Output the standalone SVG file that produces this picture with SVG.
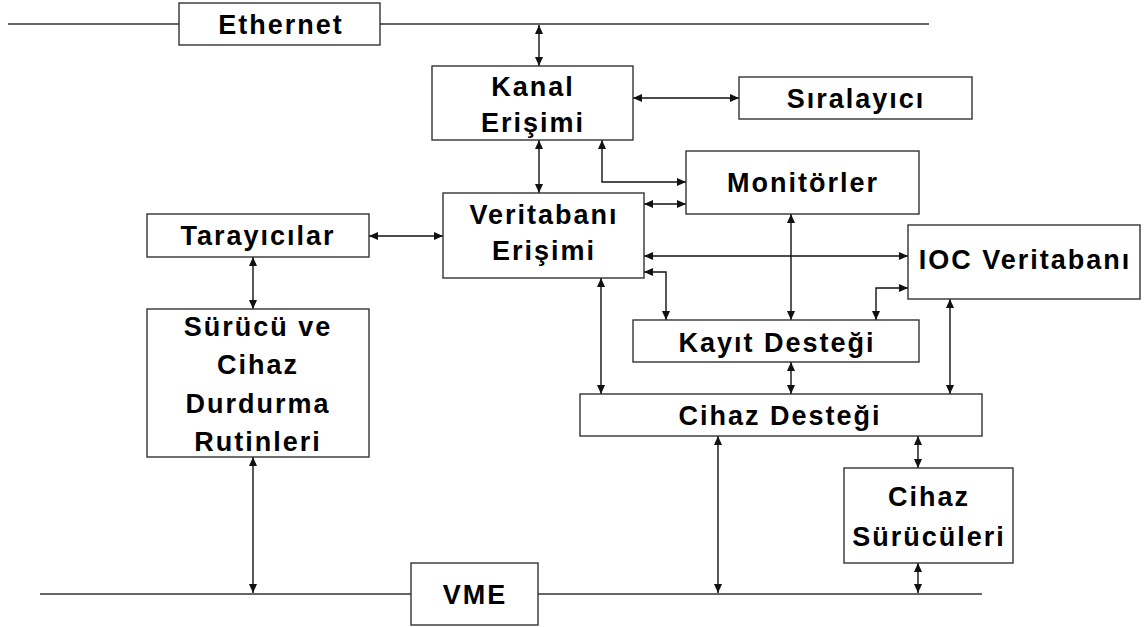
<svg xmlns="http://www.w3.org/2000/svg" width="1148" height="627" viewBox="0 0 1148 627">
  <defs>
    <marker id="ah" viewBox="0 0 9 8" refX="9" refY="4" markerWidth="9" markerHeight="8" markerUnits="userSpaceOnUse" orient="auto-start-reverse">
      <path d="M0,0 L9,4 L0,8 z" fill="#111"/>
    </marker>
  </defs>
  <style>
    .box { fill: #fff; stroke: #333; stroke-width: 1.4; }
    .bus { fill: none; stroke: #333; stroke-width: 1.4; }
    .lbl { font-family: "Liberation Sans", Arial, sans-serif; font-weight: bold; font-size: 27px; letter-spacing: 2px; fill: #000; text-anchor: middle; }
    .cn { fill: none; stroke: #111; stroke-width: 1.4; marker-start: url(#ah); marker-end: url(#ah); }
  </style>
  <rect width="1148" height="627" fill="#fff"/>

  <!-- bus lines -->
  <g id="buses">
    <path class="bus" d="M8,24 H179 M380,24 H929"/>
    <path class="bus" d="M40,594 H411 M538,594 H982"/>
  </g>

  <!-- connectors -->
  <g id="connectors">
    <path class="cn" d="M539,25 V66"/>
    <path class="cn" d="M633,98 H739"/>
    <path class="cn" d="M539,140 V193"/>
    <path class="cn" d="M602,140 V182 H686"/>
    <path class="cn" d="M644,204 H686"/>
    <path class="cn" d="M369,236 H443"/>
    <path class="cn" d="M644,256 H908"/>
    <path class="cn" d="M644,272 H666 V320"/>
    <path class="cn" d="M791,214 V320"/>
    <path class="cn" d="M908,288 H876 V320"/>
    <path class="cn" d="M601,278 V394"/>
    <path class="cn" d="M950,299 V394"/>
    <path class="cn" d="M791,362 V394"/>
    <path class="cn" d="M718,436 V593"/>
    <path class="cn" d="M918,436 V468"/>
    <path class="cn" d="M918,563 V593"/>
    <path class="cn" d="M253,257 V309"/>
    <path class="cn" d="M253,457 V593"/>
  </g>

  <g id="ethernet">
    <rect class="box" x="179" y="3" width="201" height="42"/>
    <text class="lbl" x="281" y="34">Ethernet</text>
  </g>
  <g id="kanal-erisimi">
    <rect class="box" x="432" y="66" width="201" height="74"/>
    <text class="lbl" x="533" y="96">Kanal</text>
    <text class="lbl" x="533" y="132">Erişimi</text>
  </g>
  <g id="siralayici">
    <rect class="box" x="739" y="77" width="233" height="42"/>
    <text class="lbl" x="856" y="108">Sıralayıcı</text>
  </g>
  <g id="monitorler">
    <rect class="box" x="686" y="151" width="233" height="63"/>
    <text class="lbl" x="803" y="192">Monitörler</text>
  </g>
  <g id="veritabani-erisimi">
    <rect class="box" x="443" y="193" width="201" height="85"/>
    <text class="lbl" x="544" y="224">Veritabanı</text>
    <text class="lbl" x="544" y="260">Erişimi</text>
  </g>
  <g id="tarayicilar">
    <rect class="box" x="147" y="214" width="222" height="43"/>
    <text class="lbl" x="258" y="245">Tarayıcılar</text>
  </g>
  <g id="ioc-veritabani">
    <rect class="box" x="908" y="225" width="232" height="74"/>
    <text class="lbl" x="1025" y="269">IOC Veritabanı</text>
  </g>
  <g id="kayit-destegi">
    <rect class="box" x="633" y="320" width="286" height="42"/>
    <text class="lbl" x="777" y="352">Kayıt Desteği</text>
  </g>
  <g id="cihaz-destegi">
    <rect class="box" x="580" y="394" width="402" height="42"/>
    <text class="lbl" x="780" y="425">Cihaz Desteği</text>
  </g>
  <g id="surucu-durdurma">
    <rect class="box" x="147" y="309" width="222" height="148"/>
    <text class="lbl" x="258" y="336">Sürücü ve</text>
    <text class="lbl" x="258" y="374">Cihaz</text>
    <text class="lbl" x="258" y="413">Durdurma</text>
    <text class="lbl" x="258" y="451">Rutinleri</text>
  </g>
  <g id="cihaz-suruculeri">
    <rect class="box" x="844" y="468" width="169" height="95"/>
    <text class="lbl" x="929" y="506">Cihaz</text>
    <text class="lbl" x="929" y="546">Sürücüleri</text>
  </g>
  <g id="vme">
    <rect class="box" x="411" y="563" width="127" height="62"/>
    <text class="lbl" x="475" y="604">VME</text>
  </g>
</svg>
